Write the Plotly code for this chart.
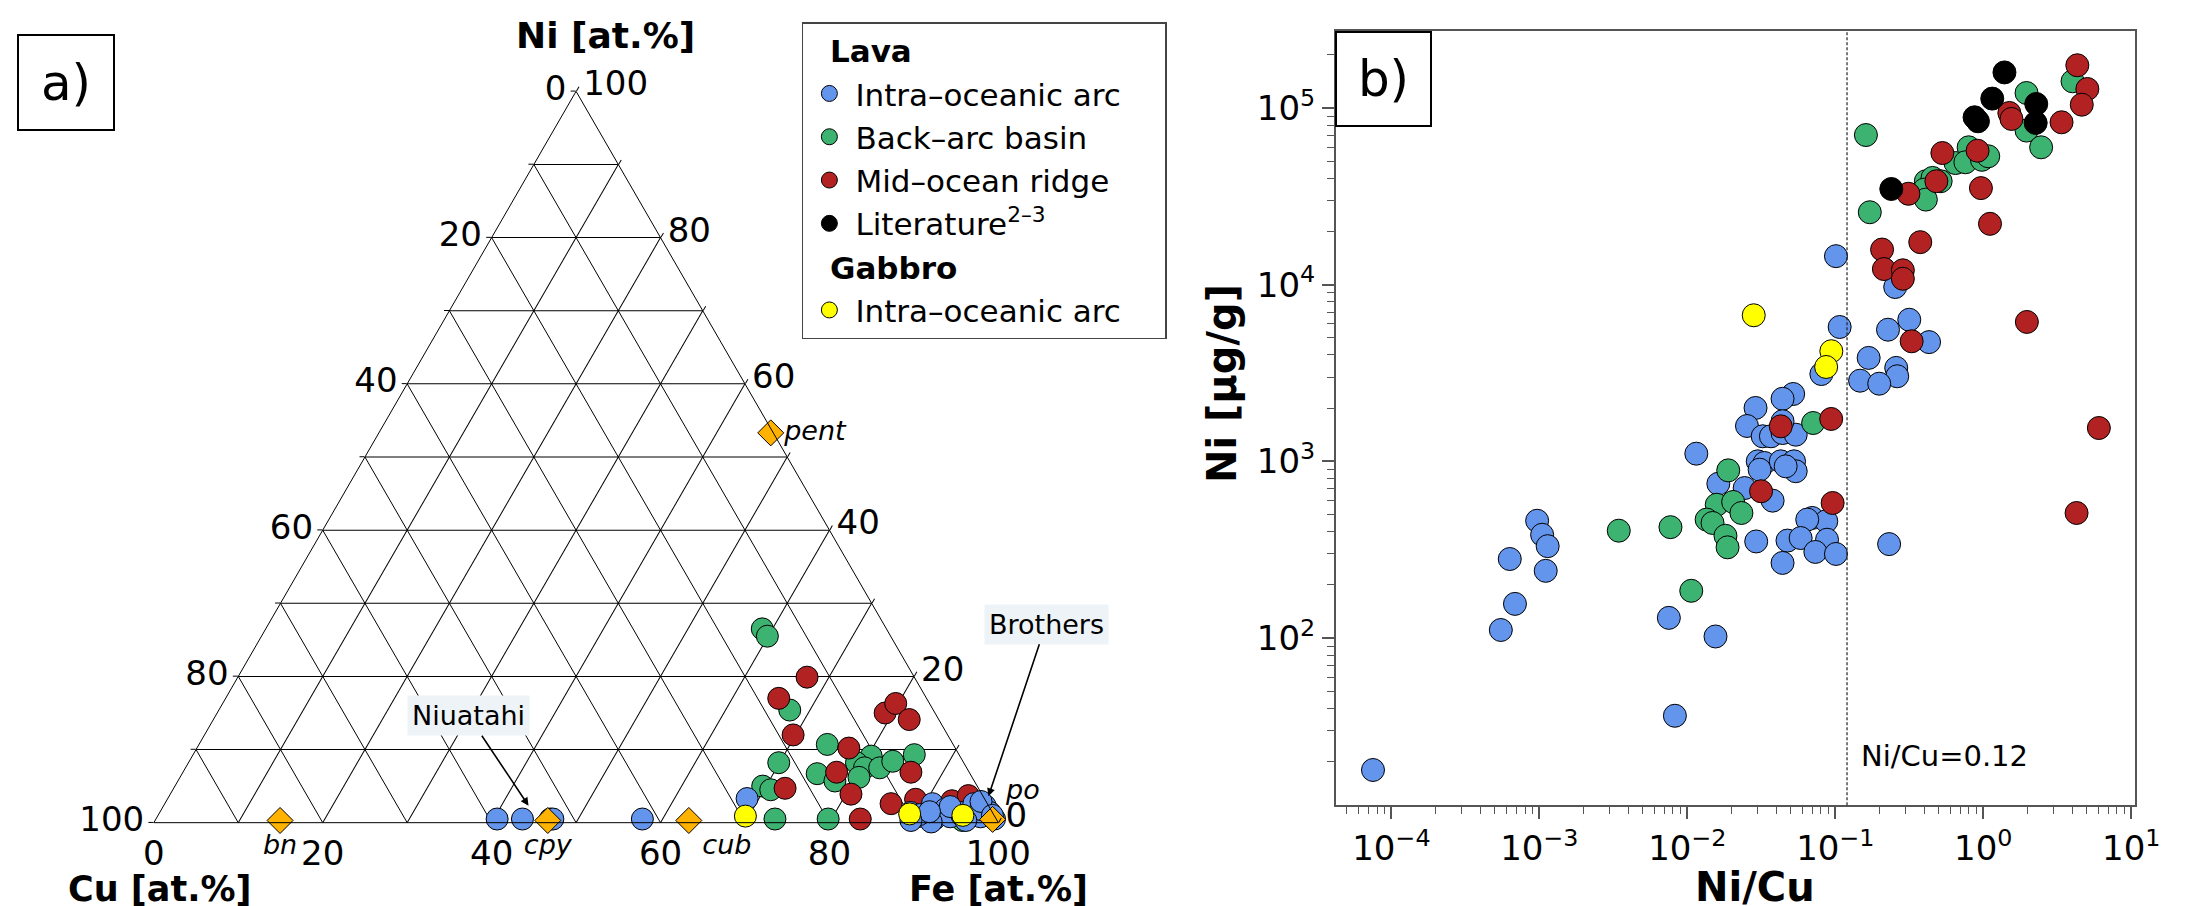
import math
import plotly.graph_objects as go

FIG_W, FIG_H = 2201, 906
FONT = "DejaVu Sans"
NBSP = "\u00a0"

# ---------------- Panel a: ternary Cu-Fe-Ni (at.%), Cu = remainder ----------------
TERN_IOA_NI = [0.5, 0.5, 0.5, 0.5, 0.5, 3.3,
               0.8, 2.6, 0.5, 1.9, 0.8, 1.4, 2.6, 0.8, 2.3, 1.4, 0.5, 1.4,
               0.1, 1.1, 0.9, 2.2, 1.8, 1.5, 0.3, 2.9, 0.3, 1.0]
TERN_IOA_FE = [40.4, 43.4, 46.7, 47.0, 57.6, 68.6,
               90.0, 90.9, 92.2, 92.8, 93.9, 94.8, 95.8, 97.5, 97.3, 98.3, 99.3, 88.9,
               92.0, 90.1, 95.3, 93.2, 97.0, 91.1, 89.5, 96.5, 96.0, 98.8]

TERN_BAB_NI = [26.5, 25.5, 15.4, 10.7, 9.1, 8.2, 7.5, 7.5, 8.4, 9.3,
               8.2, 5.0, 4.5, 0.5, 6.7, 5.7, 6.2, 0.5, 0.3]
TERN_BAB_FE = [58.8, 59.9, 67.6, 74.4, 80.4, 79.1, 80.4, 82.2, 83.3, 85.4,
               69.9, 69.6, 70.8, 73.3, 75.2, 77.8, 80.4, 79.6, 95.6]

TERN_MOR_NI = [19.9, 17.0, 12.0, 10.2, 15.0, 16.3, 14.1, 6.9, 4.7, 6.9,
               3.9, 0.5, 2.6, 3.2, 3.0, 3.7]
TERN_MOR_FE = [67.4, 65.5, 69.7, 77.2, 79.1, 79.7, 82.4, 86.2, 72.4, 77.4,
               80.6, 83.4, 86.0, 88.6, 93.0, 94.6]

TERN_GAB_NI = [0.9, 1.2, 1.0]
TERN_GAB_FE = [69.6, 88.9, 95.3]

MINERALS = ["bn", "cpy", "cub", "pent", "po"]
MINERAL_NI = [0.3, 0.3, 0.3, 53.3, 0.45]
MINERAL_FE = [14.8, 46.5, 63.2, 46.4, 99.1]
MINERAL_TEXTPOS = ["bottom center", "bottom center", "bottom right", "middle right", "top right"]

TERN_TICKS = [0, 10, 20, 30, 40, 50, 60, 70, 80, 90, 100]
TERN_TICK_TEXT = ["100", "", "80", "", "60", "", "40", "", "20", "", "0"]

# ---------------- Panel b: Ni vs Ni/Cu ----------------
IOA_RATIO = [0.101, 0.254, 0.107, 0.227, 0.316, 0.430, 0.168, 0.258, 0.262, 0.147,
             0.198, 0.0805, 0.0519, 0.0440, 0.0289, 0.0253, 0.0323, 0.0367, 0.0440, 0.0540,
             0.0440, 0.0299, 0.0332, 0.0308, 0.0428, 0.0526, 0.0540, 0.0462, 0.0244, 0.0377,
             0.0698, 0.0869, 0.0646, 0.0292, 0.0475, 0.0583, 0.0879, 0.0733, 0.101, 0.0440,
             0.231, 0.0115, 0.0162, 0.000966, 0.001044, 0.001138, 0.000631, 0.001104, 0.000684, 0.000549,
             0.0075, 0.0155, 0.00824, 0.0000751]
IOA_NI = [14500, 9700, 5760, 5560, 6330, 4730, 3850, 3380, 3030, 2860,
          2750, 3120, 2405, 2260, 2005, 1585, 1386, 1386, 1446, 1415,
          1686, 1000, 979, 897, 1000, 1000, 879, 937, 706, 599,
          478, 458, 468, 352, 356, 368, 360, 307, 299, 266,
          340, 1105, 747, 461, 384, 331, 280, 240, 156, 111,
          130, 102, 36.3, 17.9]

BAB_RATIO = [1.96, 4.01, 1.96, 2.46, 0.161, 0.171, 0.796, 0.649, 0.757, 0.979,
             1.08, 0.409, 0.454, 0.515, 0.399, 0.409, 0.0708, 0.0189, 0.0158, 0.0204,
             0.0232, 0.0135, 0.0148, 0.0181, 0.0187, 0.00344, 0.00769, 0.01063]
BAB_NI = [121600, 141600, 74500, 59900, 70300, 25700, 59900, 48800, 49300, 50900,
          53300, 38500, 40200, 38500, 34500, 30300, 1648, 889, 568, 589,
          510, 468, 448, 379, 326, 405, 424, 185]

MOR_RATIO = [4.32, 5.05, 4.63, 3.38, 1.50, 1.55, 0.529, 0.915, 0.312, 0.482,
             0.964, 1.11, 0.207, 0.375, 0.213, 0.286, 0.286, 1.97, 0.328, 6.04,
             4.27, 0.0428, 0.0938, 0.0315, 0.0959]
MOR_NI = [174500, 128100, 104400, 83000, 93700, 86700, 55600, 57300, 32700, 38500,
          35200, 22100, 15800, 17400, 12260, 12060, 10800, 6150, 4780, 1544,
          510, 1578, 1737, 677, 581]

LIT_RATIO = [1.39, 1.15, 0.873, 0.92, 2.28, 2.26, 0.239]
LIT_NI = [159000, 113000, 88600, 84100, 105400, 82300, 34800]

GAB_RATIO = [0.0281, 0.0940, 0.0867]
GAB_NI = [6710, 4200, 3420]

NI_CU_LIMIT = 0.12

X_TICKS = [1e-4, 1e-3, 1e-2, 1e-1, 1, 10]
X_TICK_TEXT = ["10<sup>−4</sup>", "10<sup>−3</sup>", "10<sup>−2</sup>",
               "10<sup>−1</sup>", "10<sup>0</sup>", "10<sup>1</sup>"]
Y_TICKS = [1e2, 1e3, 1e4, 1e5]
Y_TICK_TEXT = ["10<sup>2</sup>", "10<sup>3</sup>", "10<sup>4</sup>", "10<sup>5</sup>"]
X_MINOR = [k * 10.0 ** e for e in range(-5, 2) for k in range(2, 10)]
Y_MINOR = [k * 10.0 ** e for e in range(1, 6) for k in range(2, 10)]

C_BLUE, C_GREEN, C_RED, C_BLACK, C_YELLOW = "#6495ED", "#3CB371", "#B22222", "#000000", "#FFFF00"
C_MINERAL = "#FFB300"


def px(x):
    return x / FIG_W


def py(y):
    return 1 - y / FIG_H


fig = go.Figure()

# ---- ternary traces ----
def tern(ni, fe, color, size=22):
    return go.Scatterternary(
        a=ni, c=fe, mode="markers", showlegend=False, subplot="ternary", hoverinfo="skip",
        cliponaxis=False,
        marker=dict(size=size, color=color, line=dict(color="black", width=1)))


fig.add_trace(tern(TERN_BAB_NI, TERN_BAB_FE, C_GREEN))
fig.add_trace(tern(TERN_MOR_NI, TERN_MOR_FE, C_RED))
fig.add_trace(tern(TERN_IOA_NI, TERN_IOA_FE, C_BLUE))
fig.add_trace(tern(TERN_GAB_NI, TERN_GAB_FE, C_YELLOW))
fig.add_trace(go.Scatterternary(
    a=MINERAL_NI, c=MINERAL_FE, mode="markers+text", text=MINERALS,
    textposition=MINERAL_TEXTPOS, showlegend=False, subplot="ternary", cliponaxis=False,
    textfont=dict(family=FONT, size=27, color="black", style="italic"),
    marker=dict(symbol="diamond", size=20, color=C_MINERAL, line=dict(color="black", width=1))))

# ---- cartesian traces ----
def cart(x, y, color, name, group, gtitle=None):
    return go.Scatter(
        x=x, y=y, mode="markers", name=name, legendgroup=group,
        legendgrouptitle=dict(text=gtitle, font=dict(family=FONT, size=31, weight="bold")) if gtitle else None,
        marker=dict(size=23, color=color, line=dict(color="black", width=1)),
        xaxis="x", yaxis="y")


fig.add_trace(cart(IOA_RATIO, IOA_NI, C_BLUE, "Intra–oceanic arc" + NBSP * 4, "lava", NBSP * 2 + "Lava"))
fig.add_trace(cart(BAB_RATIO, BAB_NI, C_GREEN, "Back–arc basin", "lava"))
fig.add_trace(cart(MOR_RATIO, MOR_NI, C_RED, "Mid–ocean ridge", "lava"))
fig.add_trace(cart(LIT_RATIO, LIT_NI, C_BLACK, "Literature<sup>2–3</sup>", "lava"))
fig.add_trace(cart(GAB_RATIO, GAB_NI, C_YELLOW, "Intra–oceanic arc", "gabbro", NBSP * 2 + "Gabbro"))

tern_axis = dict(
    tickmode="array", tickvals=TERN_TICKS, ticktext=TERN_TICK_TEXT,
    showgrid=True, gridcolor="black", gridwidth=1,
    showline=True, linecolor="black", linewidth=1,
    ticks="outside", ticklen=5, tickcolor="black",
    tickfont=dict(family=FONT, size=34, color="black"),
    title=dict(text=""), min=0)

axis_common = dict(
    type="log", showline=True, mirror=True, linecolor="#555", linewidth=1.5,
    ticks="outside", ticklen=12, tickwidth=1.5, tickcolor="#555",
    showgrid=False, zeroline=False, tickmode="array",
    tickfont=dict(family=FONT, size=34, color="black"))

fig.update_layout(
    width=FIG_W, height=FIG_H,
    margin=dict(l=0, r=0, t=0, b=0),
    paper_bgcolor="white", plot_bgcolor="white",
    font=dict(family=FONT, color="black"),
    ternary=dict(
        domain=dict(x=[px(147.5), px(1001.7)], y=[py(819), py(79)]),
        sum=100, bgcolor="white",
        aaxis=tern_axis, baxis=dict(tern_axis, ticklen=0), caxis=tern_axis),
    xaxis=dict(axis_common, domain=[px(1343), px(2151.7)], range=[-4.376, 1.027],
               anchor="y", tickvals=X_TICKS, ticktext=X_TICK_TEXT,
               minor=dict(tickmode="array", tickvals=X_MINOR, ticks="outside", ticklen=7,
                          tickcolor="#555", tickwidth=1, showgrid=False)),
    yaxis=dict(axis_common, domain=[py(797.3), py(22.7)], range=[1.053, 5.4375],
               anchor="x", tickvals=Y_TICKS, ticktext=Y_TICK_TEXT,
               minor=dict(tickmode="array", tickvals=Y_MINOR, ticks="outside", ticklen=7,
                          tickcolor="#555", tickwidth=1, showgrid=False)),
    legend=dict(x=px(803), y=py(14), xanchor="left", yanchor="top",
                bgcolor="white", bordercolor="#444", borderwidth=1.5,
                font=dict(family=FONT, size=31, color="black"),
                tracegroupgap=0, traceorder="grouped", itemwidth=42),
    showlegend=True,
)

fig.add_shape(type="line", xref="x", yref="y domain", x0=NI_CU_LIMIT, x1=NI_CU_LIMIT,
              y0=0, y1=1, line=dict(color="#222", width=1.2, dash="3px,2px"))

annots = [
    # ternary titles
    dict(text="<b>Ni [at.%]</b>", x=px(604), y=py(27), font=dict(size=36)),
    dict(text="<b>Cu [at.%]</b>", x=px(154), y=py(881), font=dict(size=35)),
    dict(text="<b>Fe [at.%]</b>", x=px(1002), y=py(881), font=dict(size=35)),
    # panel b titles
    dict(text="<b>Ni/Cu</b>", x=px(1767), y=py(879), font=dict(size=40)),
    dict(text="<b>Ni [µg/g]</b>", x=px(1228), y=py(376), font=dict(size=40), textangle=-90),
    # panel labels
    dict(text="a)", x=px(59), y=py(74.5), font=dict(size=50), width=94, height=93,
         bordercolor="black", borderwidth=2, borderpad=0, bgcolor="white"),
    dict(text="b)", x=px(1391.5), y=py(71), font=dict(size=50), width=93, height=92,
         bordercolor="black", borderwidth=2, borderpad=0, bgcolor="white"),
    # threshold label
    dict(text="Ni/Cu=0.12", x=math.log10(NI_CU_LIMIT), xref="x", xanchor="left", xshift=12,
         y=py(748), font=dict(size=29)),
    # site call-outs
    dict(text="Niuatahi", x=px(526.5), y=py(797.7), showarrow=True, ax=-60, ay=-90,
         arrowhead=2, arrowsize=1, arrowwidth=1.6, arrowcolor="black",
         bgcolor="#eef3f8", borderpad=4, font=dict(size=27)),
    dict(text="Brothers", x=px(991.7), y=py(788.3), showarrow=True, ax=57.6, ay=-172,
         arrowhead=2, arrowsize=1, arrowwidth=1.6, arrowcolor="black",
         bgcolor="#eef3f8", borderpad=4, font=dict(size=27)),
]
for a in annots:
    base = dict(xref="paper", yref="paper", showarrow=False, xanchor="center", yanchor="middle")
    base.update(a)
    base["font"] = dict(family=FONT, color="black", **a.get("font", {}))
    fig.add_annotation(**base)

fig.write_html("out.html")
